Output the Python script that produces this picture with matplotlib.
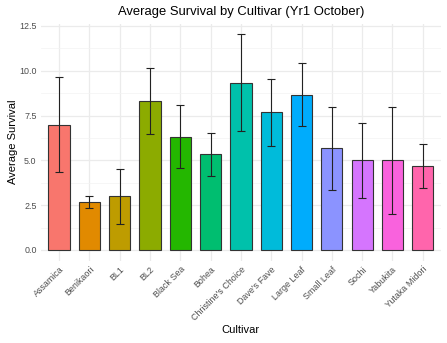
import matplotlib
matplotlib.use("Agg")
import matplotlib.pyplot as plt
import numpy as np

plt.rcParams['font.family'] = ['Liberation Sans', 'DejaVu Sans']

cultivars = ["Assamica", "Benikaori", "BL1", "BL2", "Black Sea", "Bohea",
             "Christine's Choice", "Dave's Fave", "Large Leaf", "Small Leaf",
             "Sochi", "Yabukita", "Yutaka Midori"]
mean_survival = [7.00, 2.67, 3.00, 8.33, 6.33, 5.33, 9.33, 7.67, 8.67, 5.67,
                 5.00, 5.00, 4.67]
sd_survival = [2.65, 0.33, 1.53, 1.85, 1.77, 1.22, 2.70, 1.86, 1.76, 2.33,
               2.10, 3.00, 1.22]
colors = ["#F8766D", "#E18A00", "#BE9C00", "#8CAB00", "#24B700", "#00BE70",
          "#00C1AB", "#00BBDA", "#00ACFC", "#8B93FF", "#D575FE", "#F962DD",
          "#FF65AC"]

fig = plt.figure(figsize=(4.47, 3.43), dpi=100)
ax = fig.add_axes([40.8 / 447, 1 - 260.7 / 343, (441 - 40.8) / 447, (260.7 - 23.6) / 343])

x = np.arange(len(cultivars))
ax.bar(x, mean_survival, width=0.7, color=colors, edgecolor="#333333",
       linewidth=0.8, zorder=3)
ax.errorbar(x, mean_survival, yerr=sd_survival, fmt="none", ecolor="#222222",
            elinewidth=0.8, capsize=2.6, capthick=0.8, zorder=4)

ymax = max(m + s for m, s in zip(mean_survival, sd_survival))
ax.set_xlim(-0.6, len(cultivars) - 0.4)
ax.set_ylim(-0.05 * ymax, ymax * 1.05)
ax.set_yticks([0, 2.5, 5.0, 7.5, 10.0, 12.5])
ax.set_yticklabels(["0.0", "2.5", "5.0", "7.5", "10.0", "12.5"])
ax.set_yticks([1.25, 3.75, 6.25, 8.75, 11.25], minor=True)
ax.set_xticks(x)
ax.set_xticklabels(cultivars, rotation=45, ha="right", rotation_mode="anchor")

for s in ax.spines.values():
    s.set_visible(False)
ax.tick_params(axis="both", length=0, labelsize=6.4, labelcolor="#4d4d4d", pad=3)
ax.tick_params(axis="y", which="minor", length=0)
ax.grid(True, which="major", color="#ebebeb", linewidth=0.9, zorder=0)
ax.grid(True, which="minor", axis="y", color="#f3f3f3", linewidth=0.5, zorder=0)
ax.set_axisbelow(True)

ax.set_xlabel("Cultivar", fontsize=8, labelpad=2)
ax.set_ylabel("Average Survival", fontsize=8, labelpad=1)
ax.set_title("Average Survival by Cultivar (Yr1 October)", fontsize=9.4, pad=6)

fig.savefig("out.png", dpi=100)
